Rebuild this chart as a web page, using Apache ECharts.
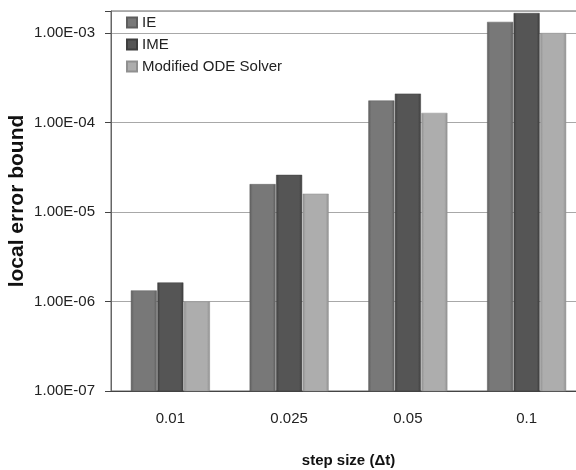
<!DOCTYPE html>
<html><head><meta charset="utf-8">
<script src="https://cdn.jsdelivr.net/npm/echarts@6/dist/echarts.min.js"></script>
<style>html,body{margin:0;padding:0;background:#fff}#c{width:576px;height:470px}</style>
</head><body><div id="c"></div>
<script>
var categories = ['0.01', '0.025', '0.05', '0.1'];
var seriesNames = ['IE', 'IME', 'Modified ODE Solver'];
var ieValues = [1.33e-6, 2.05e-5, 1.76e-4, 1.33e-3];
var imeValues = [1.63e-6, 2.6e-5, 2.1e-4, 1.67e-3];
var modValues = [1.0e-6, 1.6e-5, 1.28e-4, 1.0e-3];
var yMin = 1e-7, yMax = 1.76e-3;
var barBase = 1e-10;

var font = '"Liberation Sans Narrow", "Liberation Sans", sans-serif';
function grad(c1, c2) {
  return new echarts.graphic.LinearGradient(0, 0, 1, 0, [
    {offset: 0, color: c1}, {offset: 0.12, color: c2}, {offset: 0.88, color: c2}, {offset: 1, color: c1}
  ]);
}
var colors = [['#5e5e5e', '#787878'], ['#3e3e3e', '#555555'], ['#909090', '#adadad']];
var dataSets = [ieValues, imeValues, modValues];
var series = [];
dataSets.forEach(function (d, i) {
  series.push({
    type: 'bar', name: 'base' + i, stack: 's' + i, silent: true, barWidth: 26, barGap: '2%',
    data: categories.map(function () { return barBase; }),
    itemStyle: {color: 'rgba(0,0,0,0)'}, clip: true
  });
  series.push({
    type: 'bar', name: seriesNames[i], stack: 's' + i, data: d, barWidth: 26, barGap: '2%', clip: true,
    itemStyle: {color: grad(colors[i][0], colors[i][1]), borderColor: colors[i][0], borderWidth: 0.5}
  });
});
var chart = echarts.init(document.getElementById('c'));
chart.setOption({
  animation: false,
  color: ['#777777', '#555555', '#aaaaaa'],
  grid: {left: 111, top: 11, width: 475, bottom: 79, show: true, borderColor: '#666', borderWidth: 1,
         outerBoundsMode: 'none', containLabel: false},
  legend: {
    orient: 'vertical', left: 121, top: 10, itemWidth: 10, itemHeight: 10, itemGap: 7,
    icon: 'rect', data: seriesNames,
    textStyle: {fontFamily: font, fontSize: 15, color: '#222'}
  },
  xAxis: {
    type: 'category', data: categories,
    axisLine: {lineStyle: {color: '#444'}},
    axisTick: {length: 7, lineStyle: {color: '#444'}},
    axisLabel: {margin: 20, fontFamily: font, fontSize: 15, color: '#222'},
    name: 'step size (\u0394t)', nameLocation: 'middle', nameGap: 62, nameMoveOverlap: false,
    nameTextStyle: {fontFamily: font, fontSize: 15, fontWeight: 'bold', color: '#111'}
  },
  yAxis: {
    type: 'log', logBase: 10, min: yMin, max: yMax, splitNumber: 4,
    axisLine: {show: true, lineStyle: {color: '#666'}},
    axisTick: {show: true, length: 6, inside: false, lineStyle: {color: '#444'}},
    splitLine: {show: true, lineStyle: {color: '#a8a8a8'}},
    axisLabel: {
      margin: 16, fontFamily: font, fontSize: 15, color: '#222',
      formatter: function (v) {
        var l = Math.log10(v), e = Math.round(l);
        if (Math.abs(l - e) > 0.01) return '';
        var a = Math.abs(e);
        return '1.00E' + (e < 0 ? '-' : '+') + (a < 10 ? '0' : '') + a;
      }
    },
    name: 'local error bound', nameLocation: 'middle', nameGap: 83, nameMoveOverlap: false,
    nameTextStyle: {fontFamily: '"Liberation Sans", Arial, sans-serif', fontSize: 21, fontWeight: 'bold', color: '#111'}
  },
  series: series
});
</script></body></html>
